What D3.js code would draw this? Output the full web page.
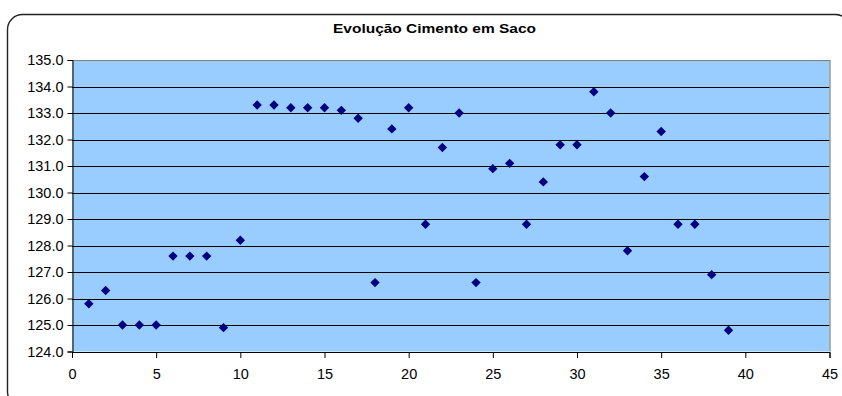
<!DOCTYPE html>
<html>
<head>
<meta charset="utf-8">
<script src="https://cdn.jsdelivr.net/npm/d3@7/dist/d3.min.js"></script>
<style>
  html, body { margin: 0; padding: 0; background: #fff; }
  svg { display: block; }
  text { font-family: "Liberation Sans", Arial, sans-serif; }
</style>
</head>
<body>
<svg id="chart" width="842" height="396"></svg>
<script>
// Monthly price of bagged cement (sample number → price)
const title = "Evolução Cimento em Saco";
const samples = d3.range(1, 40);
const prices = [
  125.8, 126.3, 125.0, 125.0, 125.0, 127.6, 127.6, 127.6, 124.9, 128.2,
  133.3, 133.3, 133.2, 133.2, 133.2, 133.1, 132.8, 126.6, 132.4, 133.2,
  128.8, 131.7, 133.0, 126.6, 130.9, 131.1, 128.8, 130.4, 131.8, 131.8,
  133.8, 133.0, 127.8, 130.6, 132.3, 128.8, 128.8, 126.9, 124.8
];
const xTicks = [0, 5, 10, 15, 20, 25, 30, 35, 40, 45];
const yTicks = [124, 125, 126, 127, 128, 129, 130, 131, 132, 133, 134, 135];

const svg = d3.select("#chart");
const plot = { left: 72, right: 829.5, top: 60, bottom: 351.5 };

const x = d3.scaleLinear().domain([0, 45]).range([plot.left, plot.right]);
const y = d3.scaleLinear().domain([124, 135]).range([plot.bottom, plot.top]);

// Outer chart frame with rounded corners
svg.append("rect")
  .attr("x", 7.5).attr("y", 14.5)
  .attr("width", 843).attr("height", 392)
  .attr("rx", 15).attr("ry", 15)
  .attr("fill", "#fff").attr("stroke", "#222").attr("stroke-width", 1.4);

// Title
svg.append("text")
  .attr("x", 434.5).attr("y", 33)
  .attr("text-anchor", "middle")
  .attr("font-size", 12).attr("font-weight", "bold")
  .attr("textLength", 203).attr("lengthAdjust", "spacingAndGlyphs")
  .text(title);

// Plot background
svg.append("rect")
  .attr("x", plot.left).attr("y", plot.top)
  .attr("width", plot.right - plot.left).attr("height", plot.bottom - plot.top)
  .attr("fill", "#99CCFF");

// Horizontal gridlines
svg.append("g")
  .selectAll("line")
  .data(yTicks.filter(v => v > 124 && v < 135))
  .join("line")
  .attr("x1", plot.left).attr("x2", plot.right)
  .attr("y1", d => Math.round(y(d)) + 0.5).attr("y2", d => Math.round(y(d)) + 0.5)
  .attr("stroke", "#000").attr("stroke-width", 1);

// Plot area border (top and right in gray)
svg.append("path")
  .attr("d", `M${plot.left},${plot.top + 0.5}H${plot.right + 0.5}V${plot.bottom}`)
  .attr("fill", "none").attr("stroke", "#808080").attr("stroke-width", 1.2);

// Y axis
const yAxis = svg.append("g")
  .attr("transform", `translate(${plot.left + 0.5},0)`)
  .call(d3.axisLeft(y).tickValues(yTicks).tickFormat(d3.format(".1f")).tickSize(5).tickPadding(4));
yAxis.select(".domain").attr("stroke", "#000");
yAxis.selectAll(".tick line").attr("stroke", "#000");
yAxis.selectAll(".tick text").attr("font-size", 14.5).attr("fill", "#000")
  .attr("font-family", "'Liberation Sans', Arial, sans-serif");

// X axis
const xAxis = svg.append("g")
  .attr("transform", `translate(0,${plot.bottom + 0.5})`)
  .call(d3.axisBottom(x).tickValues(xTicks).tickFormat(d3.format("d")).tickSize(6).tickPadding(11));
xAxis.select(".domain").attr("stroke", "#000");
xAxis.selectAll(".tick line").attr("stroke", "#000");
xAxis.selectAll(".tick text").attr("font-size", 14.5).attr("fill", "#000")
  .attr("font-family", "'Liberation Sans', Arial, sans-serif");

// Diamond markers
const diamond = d3.symbol().type(d3.symbolSquare).size(44);
svg.append("g")
  .selectAll("path")
  .data(samples.map((s, i) => ({ s, v: prices[i] })))
  .join("path")
  .attr("d", diamond)
  .attr("transform", d => `translate(${x(d.s)},${y(d.v)}) rotate(45)`)
  .attr("fill", "#000080");
</script>
</body>
</html>
